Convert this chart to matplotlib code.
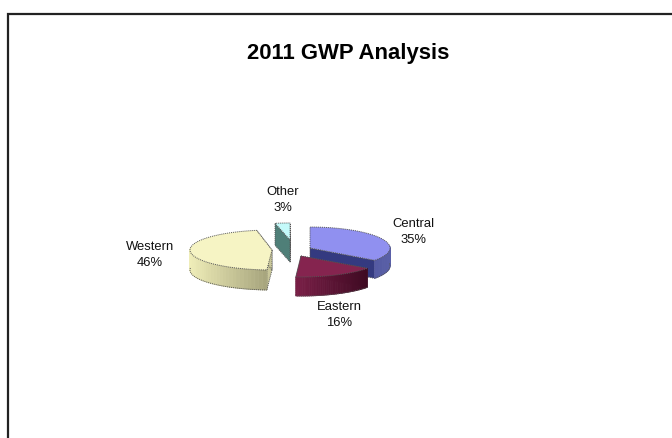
import numpy as np
import matplotlib
matplotlib.use('Agg')
import matplotlib.pyplot as plt
from matplotlib.colors import to_rgb

plt.rcParams['font.family'] = ['Liberation Sans', 'DejaVu Sans']

labels = ['Central', 'Eastern', 'Western', 'Other']
shares = [35, 16, 46, 3]
title = '2011 GWP Analysis'

top_colors = ['#9090F0', '#85244F', '#F6F4C4', '#C4FAFA']
wall_light = ['#3A3F88', '#7A1F47', '#EFEDB8', '#5E8F88']
wall_dark = ['#5A60A8', '#3E0A22', '#A8A67E', '#3F6A64']
cut_colors = ['#343A80', '#5A1030', '#C9C79A', '#4F7F78']

# where each exploded slice has its point, and radii of the tilted ellipse
apex_x = [310, 301, 272, 290]
apex_y = [248, 256, 250, 240]
rx = [80, 82, 82, 80]
ry = [21, 21, 20, 17]
depth = [18, 19, 20, 22]
label_x = [413, 339, 150, 283]
label_y = [232, 315, 255, 200]
draw_order = [3, 0, 2, 1]


def rim(i, a0, a1, n=60):
    a = np.radians(np.linspace(a0, a1, n))
    return apex_x[i] + rx[i] * np.sin(a), apex_y[i] - ry[i] * np.cos(a)


fig = plt.figure(figsize=(6.72, 4.38), dpi=100)
ax = fig.add_axes([0, 0, 1, 1])
ax.set_xlim(0, 672)
ax.set_ylim(438, 0)
ax.axis('off')

# chart frame runs off the right and the bottom
ax.plot([8, 8, 672], [438, 14, 14], color='#222222', lw=1.6, solid_joinstyle='miter')

edges = np.concatenate([[0], np.cumsum(shares) / np.sum(shares) * 360])
edge_style = dict(edgecolor='#555555', lw=0.7, linestyle=(0, (1, 1)))

for i in draw_order:
    a0, a1 = edges[i], edges[i + 1]
    d = depth[i]
    z = 3 + i

    # flat cut faces
    for a in (a0, a1):
        x, y = rim(i, a, a, 1)
        ax.fill([apex_x[i], x[0], x[0], apex_x[i]],
                [apex_y[i], y[0], y[0] + d, apex_y[i] + d],
                facecolor=cut_colors[i], zorder=z, **edge_style)

    # outer wall, shaded in narrow strips
    x, y = rim(i, a0, a1)
    light, dark = np.array(to_rgb(wall_light[i])), np.array(to_rgb(wall_dark[i]))
    for k in range(len(x) - 1):
        if np.cos(np.radians(a0 + (a1 - a0) * k / (len(x) - 1))) > 0.15:
            continue
        t = (x[k] - x.min()) / max(x.max() - x.min(), 1)
        col = light + (dark - light) * t
        ax.fill([x[k], x[k + 1], x[k + 1], x[k]],
                [y[k], y[k + 1], y[k + 1] + d, y[k] + d],
                facecolor=col, edgecolor=col, lw=0.6, zorder=z)
    front = np.cos(np.radians(np.linspace(a0, a1, len(x)))) <= 0.15
    ax.plot(x[front], y[front] + d, color='#555555', lw=0.7, ls=(0, (1, 1)), zorder=z)

    # top face
    ax.fill(np.r_[apex_x[i], x], np.r_[apex_y[i], y],
            facecolor=top_colors[i], zorder=z + 0.5, **edge_style)

    ax.text(label_x[i], label_y[i], f'{labels[i]}\n{shares[i]}%', ha='center', va='center',
            fontsize=9.4, color='#111111', linespacing=1.4, zorder=20)

ax.text(348, 54, title, ha='center', va='center', fontsize=15.9, fontweight='bold', color='black')

fig.savefig('out.png', dpi=100)
